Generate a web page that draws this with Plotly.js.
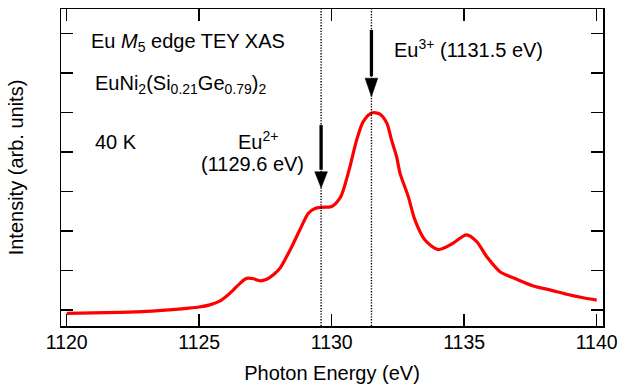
<!DOCTYPE html>
<html>
<head>
<meta charset="utf-8">
<script src="https://cdn.plot.ly/plotly-3.0.1.min.js"></script>
<style>html,body{margin:0;padding:0;background:#fff;}#chart{width:621px;height:386px;}</style>
</head>
<body>
<div id="chart"></div>
<script>
// Photon energy (eV)
var energy = [1120.0, 1121.0, 1122.0, 1123.0, 1124.0, 1124.5, 1125.0, 1125.4, 1125.79, 1126.05, 1126.29, 1126.55, 1126.79, 1127.05, 1127.29, 1127.55, 1127.80, 1128.05, 1128.43, 1128.80, 1129.12, 1129.37, 1129.62, 1130.0, 1130.31, 1130.44, 1130.69, 1130.94, 1131.19, 1131.51, 1131.82, 1132.08, 1132.26, 1132.45, 1132.58, 1132.89, 1133.14, 1133.52, 1134.02, 1134.53, 1135.09, 1135.47, 1135.85, 1136.35, 1136.98, 1137.61, 1138.23, 1138.87, 1139.49, 1140.0];
// Intensity (arb. units)
var intensity = [-0.084, -0.072, -0.058, -0.035, 0.01, 0.04, 0.075, 0.13, 0.23, 0.36, 0.51, 0.68, 0.80, 0.79, 0.74, 0.78, 0.89, 1.06, 1.52, 2.03, 2.45, 2.57, 2.60, 2.62, 2.83, 3.04, 3.63, 4.30, 4.77, 4.99, 4.96, 4.73, 4.30, 3.88, 3.46, 2.87, 2.28, 1.77, 1.53, 1.67, 1.90, 1.73, 1.35, 0.97, 0.78, 0.61, 0.51, 0.40, 0.31, 0.25];
// Marked edges
var edgeLabels = ["Eu2+", "Eu3+"];
var edgeEnergies = [1129.6, 1131.5];
var xTicks = [1120, 1125, 1130, 1135, 1140];
var yTicks = [0, 1, 2, 3, 4, 5, 6, 7];

var FONT = "Liberation Sans, Arial, sans-serif";

var trace = {
  x: energy, y: intensity, type: 'scatter', mode: 'lines',
  line: {color: 'rgb(255,0,0)', width: 3.2, shape: 'spline', smoothing: 0.8},
  hoverinfo: 'skip'
};

// arrow geometry (layout, in axis units)
var arrows = [
  {e: edgeEnergies[0], tail: 4.68, headStart: 3.50, tip: 3.09},
  {e: edgeEnergies[1], tail: 7.09, headStart: 5.87, tip: 5.40}
];
var halfHead = 0.24;

var shapes = [];
edgeEnergies.forEach(function(e){
  shapes.push({type: 'line', xref: 'x', yref: 'paper', x0: e, x1: e, y0: 0, y1: 1,
    line: {color: 'black', width: 1.4, dash: '1.3px,1.5px'}});
});
arrows.forEach(function(a){
  shapes.push({type: 'line', xref: 'x', yref: 'y', x0: a.e, x1: a.e, y0: a.tail, y1: a.headStart + 0.05,
    line: {color: 'black', width: 3.3}});
  shapes.push({type: 'path', xref: 'x', yref: 'y',
    path: 'M ' + (a.e - halfHead) + ',' + a.headStart + ' L ' + (a.e + halfHead) + ',' + a.headStart + ' L ' + a.e + ',' + a.tip + ' Z',
    fillcolor: 'black', line: {color: 'black', width: 0.5}});
});

function ann(text, x, y, xanchor) {
  return {text: text, x: x, y: y, xref: 'x', yref: 'y', xanchor: xanchor, yanchor: 'middle',
    showarrow: false, font: {family: FONT, size: 20, color: 'black'}};
}

var annotations = [
  ann('Eu <i>M</i><sub>5</sub> edge TEY XAS', 1120.84, 6.78, 'left'),
  ann('EuNi<sub>2</sub>(Si<sub>0.21</sub>Ge<sub>0.79</sub>)<sub>2</sub>', 1120.99, 5.72, 'left'),
  ann('40 K', 1120.99, 4.25, 'left'),
  ann('Eu<sup>2+</sup>', 1128.05, 4.30, 'right'),
  ann('(1129.6 eV)', 1124.99, 3.70, 'left'),
  ann('Eu<sup>3+</sup> (1131.5 eV)', 1132.26, 6.62, 'left')
];

var layout = {
  width: 621, height: 386,
  margin: {l: 61, r: 18, t: 9, b: 60, pad: 0},
  paper_bgcolor: 'white', plot_bgcolor: 'white',
  showlegend: false,
  font: {family: FONT, size: 20, color: 'black'},
  xaxis: {
    range: [1119.785, 1140.238], tickvals: xTicks, ticktext: xTicks.map(String),
    ticks: 'inside', ticklen: 12, tickwidth: 1.5, tickcolor: 'black',
    showline: true, linewidth: 1.5, linecolor: 'black', mirror: 'ticks',
    showgrid: false, zeroline: false,
    tickfont: {family: FONT, size: 19.5, color: 'black'},
    ticklabelstandoff: -2,
    title: {text: 'Photon Energy (eV)', font: {family: FONT, size: 20, color: 'black'}, standoff: 14}
  },
  yaxis: {
    range: [-0.405, 7.62], tickvals: yTicks, showticklabels: false,
    ticks: 'inside', ticklen: 12, tickwidth: 1.5, tickcolor: 'black',
    showline: true, linewidth: 1.5, linecolor: 'black', mirror: 'ticks',
    showgrid: false, zeroline: false,
    title: {text: 'Intensity (arb. units)', font: {family: FONT, size: 20, color: 'black'}, standoff: 30}
  },
  shapes: shapes,
  annotations: annotations
};

Plotly.newPlot('chart', [trace], layout, {staticPlot: true, displayModeBar: false});
</script>
</body>
</html>
